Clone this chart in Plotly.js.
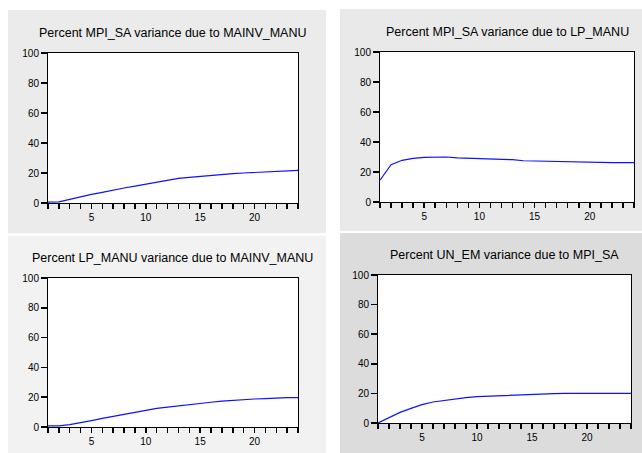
<!DOCTYPE html>
<html>
<head>
<meta charset="utf-8">
<script src="https://cdn.plot.ly/plotly-3.0.1.min.js"></script>
<style>html,body{margin:0;padding:0;background:#fff;}#chart{width:642px;height:453px;}</style>
</head>
<body>
<div id="chart"></div>
<script>
// Forecast horizons
var horizons = [1,2,3,4,5,6,7,8,9,10,11,12,13,14,15,16,17,18,19,20,21,22,23,24];

// Panel titles
var titles = [
  "Percent MPI_SA variance due to MAINV_MANU",
  "Percent MPI_SA variance due to LP_MANU",
  "Percent LP_MANU variance due to MAINV_MANU",
  "Percent UN_EM variance due to MPI_SA"
];

// Series values (percent of variance)
var mpiDueMainv = [0.6,0.7,2.4,4.2,5.8,7.1,8.7,10.0,11.3,12.7,14.0,15.3,16.4,17.1,17.8,18.7,19.3,19.6,20.0,20.4,20.9,21.1,21.6,21.8];
var mpiDueLp    = [14.5,24.9,27.8,29.1,29.8,30.0,30.0,29.4,29.2,29.0,28.5,28.3,28.2,27.5,27.3,27.2,27.1,27.0,26.5,26.4,26.4,26.3,26.3,26.3];
var lpDueMainv  = [0.7,0.7,1.6,2.7,4.3,5.8,7.2,8.5,10.0,11.6,12.5,13.4,14.1,15.0,15.7,16.6,17.4,18.0,18.4,18.8,19.0,19.5,19.7,19.7];
var unDueMpi    = [0.0,3.8,7.2,9.9,12.4,14.2,15.3,16.2,17.1,17.8,18.1,18.6,18.9,19.1,19.7,19.9,19.9,20.0,20.0,20.0,20.0,20.0,20.0,20.0];

var yTicks = [0,20,40,60,80,100];
var yTickText = ["0","20","40","60","80","100"];
var xTickText = horizons.map(function(h){ return (h % 5 === 0) ? String(h) : ""; });

var W = 642, H = 453;
// plot boxes in pixels: [x0, x1, y0(top), y1(bottom)]
var boxes = [[48,298,53,203],[380,634,52,202],[48,298,278,427],[378,631,275,423]];
// panel backgrounds in pixels [x0,x1,y0,y1] and colors
var panels = [[8,326,10,233],[340,642,9,231],[8,326,236,453],[340,642,233,453]];
var panelColors = ["#ebebeb","#e9e9e9","#f2f2f2","#dcdcdc"];
var series = [mpiDueMainv, mpiDueLp, lpDueMainv, unDueMpi];

function px(x){ return x/W; }
function py(y){ return 1 - y/H; }

var data = [], layout = {
  width: W, height: H,
  margin: {l:0,r:0,t:0,b:0},
  paper_bgcolor: "#ffffff",
  plot_bgcolor: "#ffffff",
  showlegend: false,
  font: {family: "Liberation Sans, Arial, sans-serif", size: 10, color: "#000"},
  shapes: [], annotations: []
};

for (var i = 0; i < 4; i++) {
  var sfx = i === 0 ? "" : String(i+1);
  data.push({
    x: horizons, y: series[i], type: "scatter", mode: "lines",
    line: {color: "#1010ff", width: 1.2},
    xaxis: "x" + sfx, yaxis: "y" + sfx, hoverinfo: "skip"
  });
  var b = boxes[i];
  layout["xaxis" + sfx] = {
    domain: [px(b[0]), px(b[1])], anchor: "y" + sfx,
    range: [1, 24], tickmode: "array", tickvals: horizons, ticktext: xTickText,
    ticks: "outside", ticklen: 5, tickcolor: "#000000", tickwidth: 1.5,
    showline: true, linecolor: "#000000", linewidth: 1, mirror: true,
    showgrid: false, zeroline: false, fixedrange: true,
    tickfont: {size: 10, color: "#000"}
  };
  layout["yaxis" + sfx] = {
    domain: [py(b[3]), py(b[2])], anchor: "x" + sfx,
    range: [0, 100], tickmode: "array", tickvals: yTicks, ticktext: yTickText,
    ticksuffix: "\u00a0\u00a0",
    ticks: "outside", ticklen: 6, tickcolor: "#000000", tickwidth: 1.5,
    showline: true, linecolor: "#000000", linewidth: 1, mirror: true,
    showgrid: false, zeroline: false, fixedrange: true,
    tickfont: {size: 10, color: "#000"}
  };
  var p = panels[i];
  layout.shapes.push({
    type: "rect", xref: "paper", yref: "paper", layer: "below",
    x0: px(p[0]), x1: px(p[1]), y0: py(p[3]), y1: py(p[2]),
    fillcolor: panelColors[i], line: {width: 0}
  });
}
for (var j = 0; j < 4; j++) {
  var bb = boxes[j];
  layout.shapes.push({
    type: "rect", xref: "paper", yref: "paper", layer: "below",
    x0: px(bb[0]), x1: px(bb[1]), y0: py(bb[3]), y1: py(bb[2]),
    fillcolor: "#ffffff", line: {width: 0}
  });
  layout.annotations.push({
    text: titles[j], xref: "paper", yref: "paper",
    x: px((bb[0]+bb[1])/2), y: py(bb[2] - 20),
    xanchor: "center", yanchor: "middle", showarrow: false,
    font: {size: 12.5, color: "#000"}
  });
}

Plotly.newPlot("chart", data, layout, {displayModeBar: false, staticPlot: true});
</script>
</body>
</html>
